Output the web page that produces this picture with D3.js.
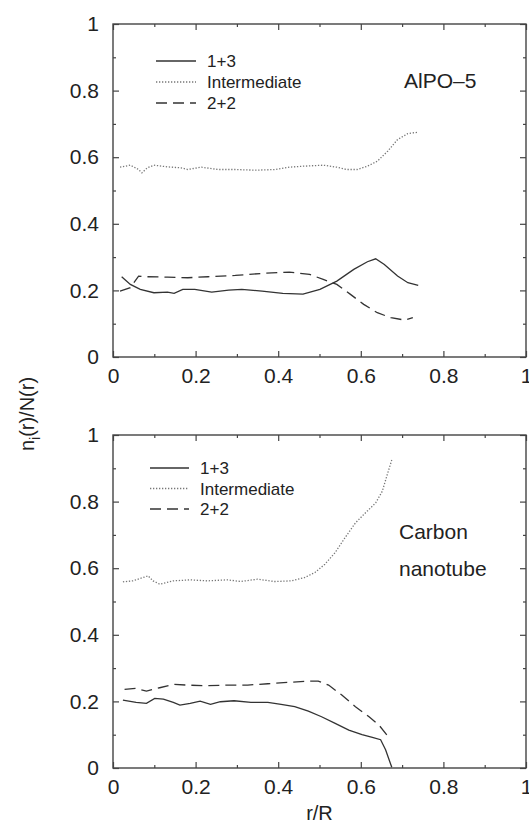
<!DOCTYPE html>
<html>
<head>
<meta charset="utf-8">
<script src="https://cdn.jsdelivr.net/npm/d3@7"></script>
<style>
  body { margin: 0; background: #fff; }
  svg { display: block; }
  text { font-family: "Liberation Sans", Arial, Helvetica, sans-serif; fill: #222; }
</style>
</head>
<body>
<div id="chart"></div>
<script>
// Tick values shared by both panels
const majorTicks = [0, 0.2, 0.4, 0.6, 0.8, 1];
const minorTicks = [0.1, 0.3, 0.5, 0.7, 0.9];
const tickLabels = ["0", "0.2", "0.4", "0.6", "0.8", "1"];

// Legend entries
const seriesNames = ["1+3", "Intermediate", "2+2"];

// AlPO-5 panel, [r/R, n_i/N]
const alpo13 = [[0.021,0.241],[0.042,0.218],[0.066,0.203],[0.099,0.193],[0.132,0.195],[0.148,0.191],
  [0.169,0.203],[0.198,0.203],[0.239,0.195],[0.28,0.201],[0.312,0.203],[0.361,0.198],[0.411,0.191],
  [0.46,0.189],[0.501,0.203],[0.542,0.228],[0.583,0.263],[0.616,0.286],[0.636,0.295],[0.657,0.278],
  [0.689,0.243],[0.714,0.223],[0.739,0.215]];
const alpoInter = [[0.017,0.57],[0.042,0.576],[0.062,0.563],[0.07,0.553],[0.083,0.568],[0.099,0.576],
  [0.132,0.571],[0.165,0.568],[0.181,0.563],[0.214,0.57],[0.255,0.563],[0.296,0.563],[0.345,0.561],
  [0.394,0.563],[0.427,0.57],[0.46,0.573],[0.509,0.576],[0.542,0.57],[0.566,0.563],[0.591,0.563],
  [0.616,0.573],[0.64,0.588],[0.665,0.618],[0.689,0.653],[0.714,0.671],[0.739,0.675]];
const alpo22 = [[0.017,0.198],[0.042,0.208],[0.062,0.243],[0.083,0.241],[0.132,0.24],[0.181,0.238],
  [0.23,0.241],[0.296,0.245],[0.361,0.251],[0.427,0.255],[0.476,0.248],[0.509,0.233],[0.542,0.218],
  [0.575,0.188],[0.607,0.158],[0.64,0.133],[0.673,0.118],[0.706,0.111],[0.726,0.118]];

// Carbon nanotube panel
const cnt13 = [[0.024,0.204],[0.056,0.197],[0.081,0.194],[0.101,0.209],[0.122,0.207],[0.146,0.197],
  [0.162,0.189],[0.187,0.194],[0.211,0.201],[0.236,0.191],[0.26,0.199],[0.293,0.202],[0.334,0.197],
  [0.375,0.197],[0.407,0.191],[0.44,0.184],[0.473,0.171],[0.505,0.154],[0.538,0.134],[0.571,0.114],
  [0.603,0.1],[0.628,0.092],[0.648,0.085],[0.66,0.055],[0.675,0.002]];
const cntInter = [[0.024,0.559],[0.048,0.562],[0.073,0.572],[0.085,0.577],[0.097,0.562],[0.113,0.552],
  [0.146,0.562],[0.187,0.565],[0.228,0.562],[0.277,0.565],[0.309,0.56],[0.35,0.567],[0.391,0.56],
  [0.432,0.562],[0.464,0.572],[0.489,0.587],[0.513,0.612],[0.538,0.647],[0.562,0.692],[0.587,0.736],
  [0.611,0.766],[0.636,0.796],[0.652,0.831],[0.664,0.881],[0.675,0.925]];
const cnt22 = [[0.028,0.236],[0.056,0.239],[0.081,0.231],[0.113,0.241],[0.146,0.251],[0.179,0.249],
  [0.228,0.247],[0.277,0.249],[0.326,0.249],[0.375,0.253],[0.424,0.257],[0.473,0.261],[0.497,0.261],
  [0.522,0.249],[0.554,0.219],[0.587,0.184],[0.62,0.154],[0.644,0.129],[0.669,0.09]];

const width = 529, height = 824;
const left = 113, right = 526;

// line styles: solid, dotted, dashed
const styles = [
  { color: "#333", width: 1.3, dash: null },
  { color: "#777", width: 1.3, dash: "1.3,1.7" },
  { color: "#333", width: 1.3, dash: "11,6" }
];

const svg = d3.select("#chart").append("svg")
  .attr("width", width)
  .attr("height", height);

const x = d3.scaleLinear().domain([0, 1]).range([left, right]);

function drawPanel(top, bottom, series, legend, notes) {
  const y = d3.scaleLinear().domain([0, 1]).range([bottom, top]);
  const g = svg.append("g");

  // inward ticks on all four sides, labels on left and bottom only
  const fmt = d => tickLabels[majorTicks.indexOf(d)];
  const axes = [
    { gen: d3.axisBottom(x), at: `translate(0,${bottom})`, labels: true },
    { gen: d3.axisTop(x), at: `translate(0,${top})`, labels: false },
    { gen: d3.axisLeft(y), at: `translate(${left},0)`, labels: true },
    { gen: d3.axisRight(y), at: `translate(${right},0)`, labels: false }
  ];
  axes.forEach(a => {
    const major = a.gen.tickValues(majorTicks).tickSize(-6)
      .tickPadding(a.gen === axes[2].gen ? 14 : 11)
      .tickFormat(a.labels ? fmt : () => "");
    g.append("g").attr("transform", a.at).call(major)
      .call(s => s.select(".domain").remove())
      .call(s => s.selectAll("line").attr("stroke", "#444").attr("stroke-width", 1.2))
      .call(s => s.selectAll("text").attr("font-size", 21).attr("fill", "#222")
        .attr("font-family", "'Liberation Sans', Arial, sans-serif"));
  });
  [d3.axisBottom(x), d3.axisTop(x), d3.axisLeft(y), d3.axisRight(y)].forEach((gen, i) => {
    g.append("g").attr("transform", axes[i].at)
      .call(gen.tickValues(minorTicks).tickSize(-3).tickFormat(() => ""))
      .call(s => s.select(".domain").remove())
      .call(s => s.selectAll("line").attr("stroke", "#444").attr("stroke-width", 1.2));
  });

  g.append("rect")
    .attr("x", left).attr("y", top)
    .attr("width", right - left).attr("height", bottom - top)
    .attr("fill", "none").attr("stroke", "#444").attr("stroke-width", 1.4);

  const line = d3.line().x(d => x(d[0])).y(d => y(d[1]));
  series.forEach((data, i) => {
    g.append("path")
      .datum(data)
      .attr("d", line)
      .attr("fill", "none")
      .attr("stroke", styles[i].color)
      .attr("stroke-width", styles[i].width)
      .attr("stroke-dasharray", styles[i].dash);
  });

  // legend
  seriesNames.forEach((name, i) => {
    const ly = legend.y + i * legend.step;
    g.append("line")
      .attr("x1", legend.x1).attr("x2", legend.x2)
      .attr("y1", ly).attr("y2", ly)
      .attr("stroke", styles[i].color)
      .attr("stroke-width", styles[i].width)
      .attr("stroke-dasharray", styles[i].dash);
    g.append("text")
      .attr("x", legend.tx).attr("y", ly)
      .attr("dy", "0.36em")
      .attr("font-size", 17)
      .text(name);
  });

  notes.forEach(n => {
    g.append("text")
      .attr("x", n.x).attr("y", n.y)
      .attr("font-size", 21)
      .text(n.text);
  });
}

drawPanel(24, 357, [alpo13, alpoInter, alpo22],
  { x1: 156, x2: 196, tx: 207, y: 61, step: 21 },
  [{ x: 404, y: 88, text: "AlPO\u20135" }]);

drawPanel(435, 768, [cnt13, cntInter, cnt22],
  { x1: 150, x2: 189, tx: 200, y: 468, step: 20.5 },
  [{ x: 399, y: 539, text: "Carbon" }, { x: 399, y: 576, text: "nanotube" }]);

// axis titles
svg.append("text")
  .attr("x", (left + right) / 2).attr("y", 820)
  .attr("text-anchor", "middle")
  .attr("font-size", 20)
  .text("r/R");

const yt = svg.append("text")
  .attr("transform", "translate(27,414) rotate(-90)")
  .attr("text-anchor", "middle")
  .attr("dominant-baseline", "central")
  .attr("font-size", 20);
yt.append("tspan").text("n");
yt.append("tspan").attr("font-size", 14).attr("baseline-shift", "sub").text("i");
yt.append("tspan").text("(r)/N(r)");
</script>
</body>
</html>
